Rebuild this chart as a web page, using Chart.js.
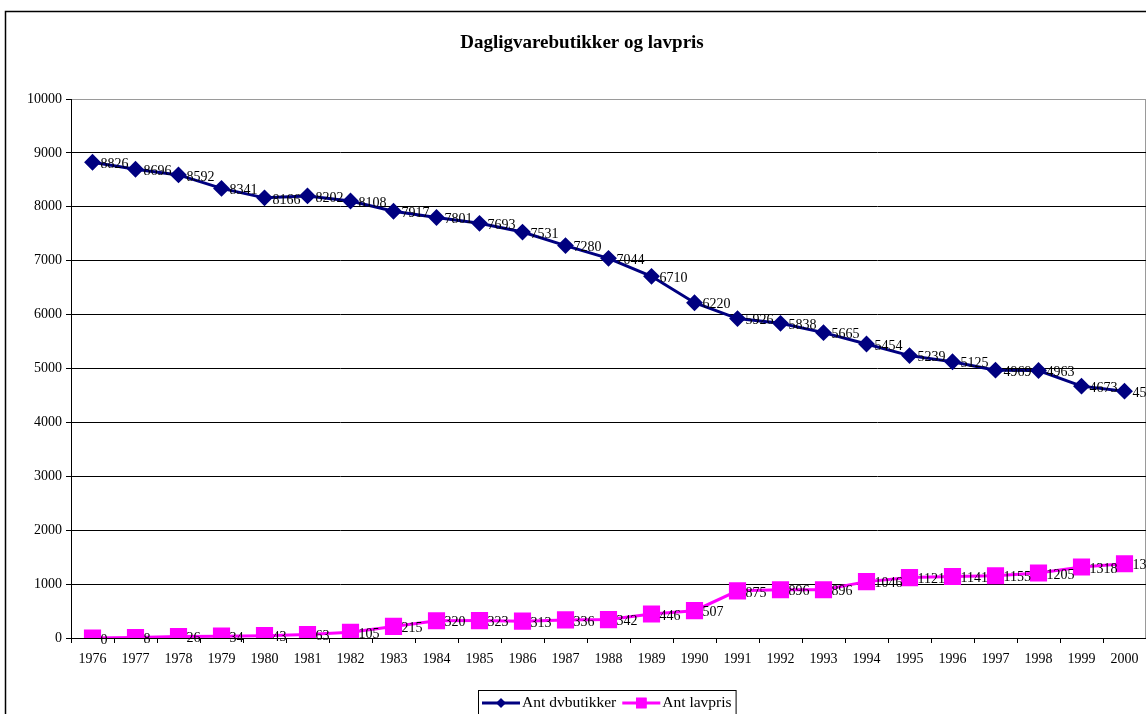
<!DOCTYPE html>
<html>
<head>
<meta charset="utf-8">
<script src="https://cdn.jsdelivr.net/npm/chart.js@4"></script>
<style>
  html, body { margin: 0; padding: 0; background: #fff; overflow: hidden; }
  #wrap { width: 1146px; height: 714px; }
</style>
</head>
<body>
<div id="wrap"><canvas id="chart" width="1146" height="714"></canvas></div>
<script>
const years = ['1976','1977','1978','1979','1980','1981','1982','1983','1984','1985','1986','1987','1988',
  '1989','1990','1991','1992','1993','1994','1995','1996','1997','1998','1999','2000'];
const antDvbutikker = [8826, 8696, 8592, 8341, 8166, 8202, 8108, 7917, 7801, 7693, 7531, 7280, 7044,
  6710, 6220, 5926, 5838, 5665, 5454, 5239, 5125, 4969, 4963, 4673, 4580];
const antLavpris = [0, 8, 26, 34, 43, 63, 105, 215, 320, 323, 313, 336, 342,
  446, 507, 875, 896, 896, 1046, 1121, 1141, 1155, 1205, 1318, 1378];
const yTicks = [0, 1000, 2000, 3000, 4000, 5000, 6000, 7000, 8000, 9000, 10000];

const NAVY = '#000080';
const MAGENTA = '#ff00ff';
const SERIF = '"Liberation Serif", "Times New Roman", serif';

// Excel-style frame, title and boxed legend, drawn straight on the canvas
const excelFrame = {
  id: 'excelFrame',
  beforeDraw(chart) {
    const { ctx, chartArea: a } = chart;
    ctx.save();
    ctx.strokeStyle = '#000';
    ctx.lineWidth = 1.5;
    ctx.strokeRect(5.5, 11.5, chart.width + 20, chart.height + 20);
    ctx.strokeStyle = '#9a9a9a';
    ctx.lineWidth = 1;
    ctx.strokeRect(a.left + 0.5, a.top + 0.5, a.right - a.left - 1, a.bottom - a.top);
    ctx.fillStyle = '#000';
    ctx.font = `bold 19px ${SERIF}`;
    ctx.textAlign = 'center';
    ctx.textBaseline = 'middle';
    ctx.fillText('Dagligvarebutikker og lavpris', 582, 43);
    ctx.restore();
  },
  afterDraw(chart) {
    const { ctx } = chart;
    const sets = chart.data.datasets;
    ctx.save();
    ctx.font = `15.5px ${SERIF}`;
    ctx.textBaseline = 'middle';
    ctx.textAlign = 'left';
    const top = 690, midY = 703;
    let x = 482;
    const items = sets.map(ds => ({ ds, w: ctx.measureText(ds.label).width }));
    const boxW = items.reduce((s, it) => s + 40 + it.w + 6, 0) + 2;
    ctx.fillStyle = '#fff';
    ctx.fillRect(478, top, boxW, 40);
    ctx.strokeStyle = '#000';
    ctx.lineWidth = 1;
    ctx.strokeRect(478.5, top + 0.5, boxW, 40);
    items.forEach(({ ds, w }) => {
      ctx.strokeStyle = ds.borderColor;
      ctx.lineWidth = 3;
      ctx.beginPath();
      ctx.moveTo(x, midY);
      ctx.lineTo(x + 38, midY);
      ctx.stroke();
      ctx.fillStyle = ds.borderColor;
      Chart.helpers.drawPoint(ctx, { pointStyle: ds.pointStyle, radius: ds.pointRadius * 0.75, rotation: 0, borderWidth: 0 }, x + 19, midY);
      ctx.fill();
      ctx.fillStyle = '#000';
      ctx.fillText(ds.label, x + 40, midY);
      x += 40 + w + 6;
    });
    ctx.restore();
  }
};

// value labels to the right of every point
const pointLabels = {
  id: 'pointLabels',
  afterDatasetsDraw(chart) {
    const { ctx } = chart;
    ctx.save();
    ctx.font = `14px ${SERIF}`;
    ctx.fillStyle = '#000';
    ctx.textAlign = 'left';
    ctx.textBaseline = 'middle';
    chart.data.datasets.forEach((ds, i) => {
      chart.getDatasetMeta(i).data.forEach((pt, j) => {
        ctx.fillText(String(ds.data[j]), pt.x + 8, pt.y + 2);
      });
    });
    ctx.restore();
  }
};

new Chart(document.getElementById('chart'), {
  type: 'line',
  data: {
    labels: years,
    datasets: [
      {
        label: 'Ant dvbutikker',
        data: antDvbutikker,
        borderColor: NAVY,
        backgroundColor: NAVY,
        borderWidth: 3,
        pointStyle: 'rectRot',
        pointRadius: 6.3,
        tension: 0
      },
      {
        label: 'Ant lavpris',
        data: antLavpris,
        borderColor: MAGENTA,
        backgroundColor: MAGENTA,
        borderWidth: 3,
        pointStyle: 'rect',
        pointRadius: 10,
        tension: 0
      }
    ]
  },
  options: {
    responsive: false,
    animation: false,
    layout: { autoPadding: false, padding: { left: 0, top: 99, right: 0, bottom: 36 } },
    plugins: {
      legend: { display: false },
      title: { display: false },
      tooltip: { enabled: false }
    },
    scales: {
      x: {
        type: 'category',
        offset: true,
        afterFit(scale) {
          scale.height = 40;
          scale.paddingLeft = 0;
          scale.paddingRight = 0;
        },
        grid: { offset: true, drawOnChartArea: false, drawTicks: true, tickLength: 5, color: '#000' },
        border: { color: '#000', width: 1 },
        ticks: { color: '#000', font: { family: SERIF, size: 14 }, padding: 8, maxRotation: 0, autoSkip: false }
      },
      y: {
        min: 0,
        max: 10000,
        afterFit(scale) { scale.width = 71; },
        afterBuildTicks(scale) { scale.ticks = yTicks.map(v => ({ value: v })); },
        grid: {
          color: c => (c.tick && c.tick.value === 10000 ? '#9a9a9a' : '#000'),
          tickColor: '#000',
          tickLength: 5
        },
        border: { color: '#000', width: 1 },
        ticks: { color: '#000', font: { family: SERIF, size: 14 }, padding: 4, callback: v => String(v) }
      }
    }
  },
  plugins: [excelFrame, pointLabels]
});
</script>
</body>
</html>
